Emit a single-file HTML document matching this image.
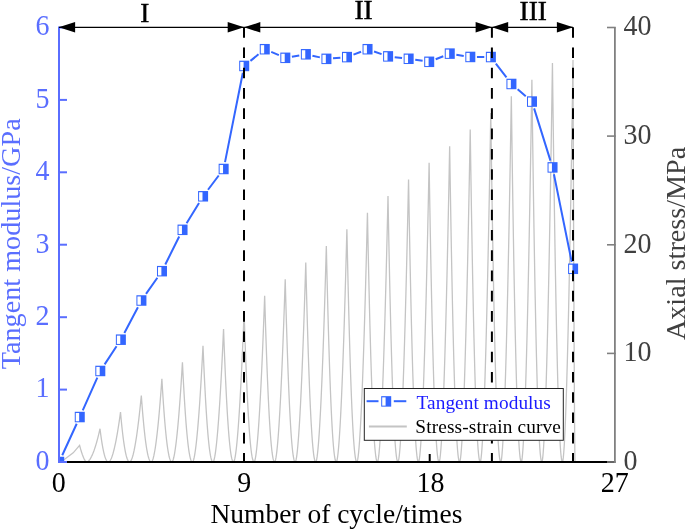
<!DOCTYPE html>
<html><head><meta charset="utf-8"><style>html,body{margin:0;padding:0;background:#fff;width:685px;height:530px;overflow:hidden}svg{display:block;will-change:transform}</style></head>
<body>
<svg width="685" height="530" viewBox="0 0 685 530">
<rect width="685" height="530" fill="#fff"/>
<defs><clipPath id="pc"><rect x="58" y="20" width="557" height="443"/></clipPath></defs>
<path d="M59.00,462.00 L64.00,459.70 L73.20,452.80 L79.60,445.38 L79.89,446.47 L80.18,447.54 L80.47,448.58 L80.77,449.59 L81.06,450.56 L81.35,451.51 L81.64,452.43 L81.93,453.31 L82.22,454.17 L82.52,454.98 L82.81,455.77 L83.10,456.52 L83.39,457.23 L83.68,457.90 L83.97,458.54 L84.27,459.13 L84.56,459.69 L84.85,460.19 L85.14,460.65 L85.43,461.05 L85.72,461.40 L86.02,461.69 L86.31,461.90 L86.60,462.00 L86.60,462.00 L87.16,461.89 L87.72,461.62 L88.27,461.21 L88.83,460.68 L89.39,460.03 L89.95,459.26 L90.51,458.38 L91.07,457.40 L91.62,456.31 L92.18,455.13 L92.74,453.84 L93.30,452.45 L93.86,450.98 L94.42,449.40 L94.97,447.74 L95.53,445.98 L96.09,444.13 L96.65,442.20 L97.21,440.17 L97.77,438.06 L98.33,435.86 L98.88,433.58 L99.44,431.21 L100.00,428.76 L100.35,431.60 L100.71,434.31 L101.06,436.89 L101.42,439.33 L101.77,441.65 L102.12,443.83 L102.48,445.89 L102.83,447.81 L103.19,449.61 L103.54,451.28 L103.90,452.83 L104.25,454.25 L104.60,455.54 L104.96,456.71 L105.31,457.76 L105.67,458.69 L106.02,459.50 L106.38,460.19 L106.73,460.77 L107.08,461.23 L107.44,461.58 L107.79,461.82 L108.15,461.96 L108.50,462.00 L108.50,462.00 L109.00,461.84 L109.50,461.43 L110.00,460.82 L110.50,460.02 L111.00,459.04 L111.50,457.89 L112.00,456.57 L112.50,455.10 L113.00,453.47 L113.50,451.69 L114.00,449.76 L114.50,447.68 L115.00,445.46 L115.50,443.10 L116.00,440.60 L116.50,437.97 L117.00,435.20 L117.50,432.29 L118.00,429.26 L118.50,426.09 L119.00,422.79 L119.50,419.37 L120.00,415.82 L120.50,412.14 L120.88,416.40 L121.27,420.47 L121.65,424.33 L122.03,428.00 L122.42,431.47 L122.80,434.75 L123.18,437.83 L123.57,440.72 L123.95,443.42 L124.33,445.92 L124.72,448.24 L125.10,450.37 L125.48,452.31 L125.87,454.07 L126.25,455.64 L126.63,457.04 L127.02,458.25 L127.40,459.29 L127.78,460.15 L128.17,460.84 L128.55,461.37 L128.93,461.73 L129.32,461.94 L129.70,462.00 L129.70,462.00 L130.18,461.78 L130.67,461.24 L131.15,460.43 L131.64,459.36 L132.12,458.05 L132.61,456.52 L133.09,454.76 L133.57,452.80 L134.06,450.63 L134.54,448.25 L135.03,445.68 L135.51,442.91 L136.00,439.95 L136.48,436.80 L136.96,433.47 L137.45,429.96 L137.93,426.26 L138.42,422.39 L138.90,418.34 L139.39,414.12 L139.87,409.72 L140.36,405.16 L140.84,400.42 L141.32,395.52 L141.74,401.21 L142.16,406.62 L142.57,411.78 L142.99,416.67 L143.41,421.30 L143.82,425.67 L144.24,429.78 L144.66,433.63 L145.07,437.22 L145.49,440.57 L145.91,443.65 L146.32,446.49 L146.74,449.08 L147.16,451.43 L147.57,453.52 L147.99,455.38 L148.41,457.00 L148.82,458.38 L149.24,459.53 L149.66,460.46 L150.07,461.16 L150.49,461.64 L150.91,461.92 L151.32,462.00 L151.32,462.00 L151.76,461.73 L152.20,461.05 L152.64,460.03 L153.08,458.70 L153.52,457.06 L153.96,455.15 L154.40,452.96 L154.84,450.50 L155.28,447.78 L155.72,444.81 L156.16,441.60 L156.60,438.14 L157.04,434.44 L157.48,430.51 L157.92,426.34 L158.36,421.95 L158.80,417.33 L159.24,412.49 L159.68,407.43 L160.12,402.15 L160.56,396.66 L161.00,390.95 L161.44,385.03 L161.88,378.90 L162.30,386.01 L162.71,392.78 L163.13,399.22 L163.55,405.34 L163.96,411.12 L164.38,416.58 L164.80,421.72 L165.21,426.54 L165.63,431.03 L166.05,435.21 L166.46,439.07 L166.88,442.62 L167.30,445.85 L167.71,448.78 L168.13,451.41 L168.55,453.73 L168.96,455.75 L169.38,457.48 L169.80,458.92 L170.21,460.07 L170.63,460.95 L171.05,461.55 L171.46,461.90 L171.88,462.00 L171.88,462.00 L172.32,461.67 L172.76,460.86 L173.20,459.64 L173.64,458.04 L174.08,456.08 L174.52,453.78 L174.96,451.15 L175.40,448.20 L175.84,444.94 L176.28,441.38 L176.72,437.52 L177.16,433.36 L177.60,428.93 L178.04,424.21 L178.48,419.21 L178.92,413.94 L179.36,408.40 L179.80,402.59 L180.24,396.51 L180.68,390.18 L181.12,383.59 L181.56,376.74 L182.00,369.64 L182.44,362.28 L182.85,370.81 L183.27,378.94 L183.69,386.67 L184.10,394.00 L184.52,400.95 L184.94,407.50 L185.35,413.66 L185.77,419.44 L186.19,424.84 L186.60,429.85 L187.02,434.48 L187.44,438.74 L187.85,442.62 L188.27,446.14 L188.69,449.29 L189.10,452.07 L189.52,454.50 L189.94,456.57 L190.35,458.30 L190.77,459.68 L191.19,460.73 L191.60,461.46 L192.02,461.87 L192.44,462.00 L192.44,462.00 L192.88,461.62 L193.32,460.67 L193.76,459.24 L194.20,457.38 L194.64,455.09 L195.07,452.41 L195.51,449.34 L195.95,445.90 L196.39,442.09 L196.83,437.94 L197.27,433.43 L197.71,428.59 L198.15,423.41 L198.59,417.91 L199.03,412.08 L199.47,405.93 L199.91,399.46 L200.35,392.68 L200.79,385.60 L201.23,378.21 L201.67,370.52 L202.11,362.53 L202.55,354.24 L202.99,345.66 L203.41,355.61 L203.83,365.09 L204.24,374.11 L204.66,382.67 L205.08,390.77 L205.49,398.42 L205.91,405.61 L206.33,412.35 L206.74,418.64 L207.16,424.49 L207.58,429.90 L207.99,434.86 L208.41,439.40 L208.83,443.50 L209.24,447.17 L209.66,450.42 L210.08,453.25 L210.49,455.67 L210.91,457.68 L211.33,459.30 L211.74,460.52 L212.16,461.37 L212.58,461.85 L212.99,462.00 L212.99,462.00 L213.43,461.56 L213.87,460.48 L214.31,458.85 L214.75,456.72 L215.19,454.10 L215.63,451.04 L216.07,447.53 L216.51,443.60 L216.95,439.25 L217.39,434.50 L217.83,429.35 L218.27,423.82 L218.71,417.90 L219.15,411.61 L219.59,404.94 L220.03,397.92 L220.47,390.53 L220.91,382.78 L221.35,374.69 L221.79,366.24 L222.23,357.45 L222.67,348.32 L223.11,338.85 L223.55,329.04 L223.96,340.41 L224.38,351.25 L224.80,361.56 L225.21,371.34 L225.63,380.60 L226.05,389.33 L226.46,397.55 L226.88,405.26 L227.30,412.45 L227.71,419.13 L228.13,425.31 L228.55,430.99 L228.96,436.17 L229.38,440.85 L229.80,445.05 L230.21,448.76 L230.63,452.00 L231.05,454.77 L231.46,457.07 L231.88,458.91 L232.30,460.31 L232.71,461.28 L233.13,461.83 L233.55,462.00 L233.55,462.00 L233.99,461.51 L234.43,460.29 L234.87,458.46 L235.31,456.05 L235.75,453.12 L236.19,449.66 L236.63,445.72 L237.07,441.30 L237.51,436.41 L237.95,431.06 L238.39,425.27 L238.83,419.05 L239.27,412.39 L239.71,405.31 L240.15,397.81 L240.59,389.91 L241.03,381.59 L241.47,372.88 L241.90,363.77 L242.34,354.27 L242.78,344.38 L243.22,334.11 L243.66,323.45 L244.10,312.42 L244.52,325.21 L244.94,337.40 L245.35,349.00 L245.77,360.00 L246.19,370.42 L246.60,380.25 L247.02,389.50 L247.44,398.16 L247.85,406.25 L248.27,413.77 L248.69,420.72 L249.10,427.11 L249.52,432.94 L249.94,438.21 L250.35,442.93 L250.77,447.11 L251.19,450.75 L251.60,453.86 L252.02,456.45 L252.44,458.53 L252.85,460.10 L253.27,461.19 L253.69,461.81 L254.10,462.00 L254.10,462.00 L254.54,461.46 L254.98,460.10 L255.42,458.06 L255.86,455.39 L256.30,452.13 L256.74,448.29 L257.18,443.91 L257.62,439.00 L258.06,433.56 L258.50,427.63 L258.94,421.19 L259.38,414.27 L259.82,406.88 L260.26,399.01 L260.70,390.68 L261.14,381.90 L261.58,372.66 L262.02,362.98 L262.46,352.86 L262.90,342.30 L263.34,331.31 L263.78,319.90 L264.22,308.06 L264.66,295.80 L265.08,310.01 L265.49,323.56 L265.91,336.44 L266.33,348.67 L266.74,360.24 L267.16,371.17 L267.58,381.44 L267.99,391.07 L268.41,400.06 L268.83,408.41 L269.24,416.14 L269.66,423.23 L270.08,429.71 L270.49,435.57 L270.91,440.81 L271.33,445.46 L271.74,449.50 L272.16,452.96 L272.58,455.83 L272.99,458.14 L273.41,459.89 L273.83,461.10 L274.24,461.79 L274.66,462.00 L274.66,462.00 L275.10,461.40 L275.54,459.91 L275.98,457.67 L276.42,454.73 L276.86,451.14 L277.30,446.92 L277.74,442.10 L278.18,436.70 L278.62,430.72 L279.06,424.19 L279.50,417.11 L279.94,409.50 L280.38,401.36 L280.82,392.71 L281.26,383.55 L281.70,373.89 L282.14,363.73 L282.58,353.08 L283.02,341.94 L283.46,330.33 L283.90,318.24 L284.34,305.69 L284.78,292.67 L285.22,279.18 L285.63,294.81 L286.05,309.71 L286.47,323.89 L286.88,337.34 L287.30,350.07 L287.72,362.08 L288.13,373.38 L288.55,383.98 L288.97,393.87 L289.38,403.06 L289.80,411.55 L290.22,419.36 L290.63,426.48 L291.05,432.92 L291.47,438.69 L291.88,443.80 L292.30,448.25 L292.72,452.05 L293.13,455.22 L293.55,457.75 L293.97,459.68 L294.38,461.01 L294.80,461.77 L295.22,462.00 L295.22,462.00 L295.66,461.35 L296.10,459.72 L296.54,457.28 L296.98,454.07 L297.42,450.15 L297.86,445.55 L298.29,440.29 L298.73,434.40 L299.17,427.88 L299.61,420.75 L300.05,413.03 L300.49,404.73 L300.93,395.85 L301.37,386.41 L301.81,376.42 L302.25,365.87 L302.69,354.79 L303.13,343.17 L303.57,331.03 L304.01,318.36 L304.45,305.17 L304.89,291.48 L305.33,277.27 L305.77,262.56 L306.19,279.62 L306.61,295.87 L307.02,311.33 L307.44,326.01 L307.86,339.89 L308.27,353.00 L308.69,365.33 L309.11,376.88 L309.52,387.67 L309.94,397.70 L310.36,406.96 L310.77,415.48 L311.19,423.25 L311.61,430.28 L312.02,436.57 L312.44,442.15 L312.86,447.00 L313.27,451.15 L313.69,454.60 L314.11,457.37 L314.52,459.47 L314.94,460.92 L315.36,461.75 L315.77,462.00 L315.77,462.00 L316.21,461.29 L316.65,459.53 L317.09,456.88 L317.53,453.41 L317.97,449.17 L318.41,444.18 L318.85,438.48 L319.29,432.09 L319.73,425.03 L320.17,417.31 L320.61,408.95 L321.05,399.95 L321.49,390.34 L321.93,380.11 L322.37,369.29 L322.81,357.86 L323.25,345.86 L323.69,333.27 L324.13,320.11 L324.57,306.39 L325.01,292.11 L325.45,277.27 L325.89,261.88 L326.33,245.94 L326.74,264.42 L327.16,282.03 L327.58,298.78 L327.99,314.67 L328.41,329.72 L328.83,343.92 L329.24,357.27 L329.66,369.79 L330.08,381.48 L330.49,392.34 L330.91,402.38 L331.33,411.60 L331.74,420.02 L332.16,427.63 L332.58,434.46 L332.99,440.49 L333.41,445.75 L333.83,450.24 L334.24,453.98 L334.66,456.98 L335.08,459.26 L335.49,460.83 L335.91,461.73 L336.33,462.00 L336.33,462.00 L336.77,461.24 L337.21,459.34 L337.65,456.49 L338.09,452.75 L338.53,448.18 L338.97,442.81 L339.41,436.68 L339.85,429.79 L340.29,422.19 L340.73,413.88 L341.17,404.87 L341.61,395.18 L342.05,384.83 L342.49,373.81 L342.93,362.15 L343.37,349.85 L343.81,336.92 L344.25,323.37 L344.68,309.20 L345.12,294.42 L345.56,279.04 L346.00,263.06 L346.44,246.48 L346.88,229.33 L347.30,249.22 L347.72,268.18 L348.13,286.22 L348.55,303.34 L348.97,319.54 L349.38,334.83 L349.80,349.22 L350.22,362.70 L350.63,375.28 L351.05,386.98 L351.47,397.79 L351.88,407.73 L352.30,416.79 L352.72,424.99 L353.13,432.34 L353.55,438.84 L353.97,444.50 L354.38,449.34 L354.80,453.37 L355.22,456.60 L355.63,459.05 L356.05,460.74 L356.47,461.71 L356.88,462.00 L356.88,462.00 L357.32,461.18 L357.76,459.15 L358.20,456.10 L358.64,452.09 L359.08,447.19 L359.52,441.44 L359.96,434.87 L360.40,427.49 L360.84,419.35 L361.28,410.44 L361.72,400.79 L362.16,390.41 L362.60,379.31 L363.04,367.52 L363.48,355.02 L363.92,341.84 L364.36,327.99 L364.80,313.47 L365.24,298.28 L365.68,282.45 L366.12,265.97 L366.56,248.85 L367.00,231.09 L367.44,212.71 L367.86,234.02 L368.27,254.34 L368.69,273.67 L369.11,292.01 L369.52,309.37 L369.94,325.75 L370.36,341.16 L370.77,355.61 L371.19,369.09 L371.61,381.62 L372.02,393.21 L372.44,403.85 L372.86,413.56 L373.27,422.35 L373.69,430.22 L374.11,437.18 L374.52,443.25 L374.94,448.44 L375.36,452.75 L375.77,456.21 L376.19,458.84 L376.61,460.65 L377.02,461.69 L377.44,462.00 L377.44,462.00 L377.88,461.13 L378.32,458.96 L378.76,455.70 L379.20,451.43 L379.64,446.21 L380.08,440.07 L380.52,433.06 L380.96,425.19 L381.40,416.50 L381.84,407.00 L382.28,396.71 L382.72,385.64 L383.16,373.80 L383.60,361.22 L384.04,347.89 L384.48,333.83 L384.92,319.05 L385.36,303.56 L385.80,287.37 L386.24,270.48 L386.68,252.90 L387.12,234.64 L387.56,215.70 L388.00,196.09 L388.41,218.82 L388.83,240.49 L389.25,261.11 L389.66,280.67 L390.08,299.19 L390.50,316.67 L390.91,333.10 L391.33,348.51 L391.75,362.90 L392.16,376.26 L392.58,388.62 L393.00,399.97 L393.41,410.33 L393.83,419.70 L394.25,428.10 L394.66,435.53 L395.08,442.00 L395.50,447.53 L395.91,452.13 L396.33,455.83 L396.75,458.63 L397.16,460.56 L397.58,461.66 L398.00,462.00 L398.00,462.00 L398.44,461.07 L398.88,458.77 L399.32,455.31 L399.76,450.77 L400.20,445.22 L400.64,438.70 L401.07,431.25 L401.51,422.89 L401.95,413.66 L402.39,403.56 L402.83,392.63 L403.27,380.86 L403.71,368.29 L404.15,354.92 L404.59,340.76 L405.03,325.82 L405.47,310.12 L405.91,293.66 L406.35,276.46 L406.79,258.51 L407.23,239.83 L407.67,220.43 L408.11,200.30 L408.55,179.47 L408.97,203.62 L409.39,226.65 L409.80,248.55 L410.22,269.34 L410.64,289.01 L411.05,307.58 L411.47,325.05 L411.89,341.42 L412.30,356.70 L412.72,370.90 L413.14,384.03 L413.55,396.10 L413.97,407.10 L414.39,417.06 L414.80,425.98 L415.22,433.87 L415.64,440.75 L416.05,446.63 L416.47,451.52 L416.89,455.44 L417.30,458.41 L417.72,460.47 L418.14,461.64 L418.55,462.00 L418.55,462.00 L418.99,461.02 L419.43,458.59 L419.87,454.92 L420.31,450.11 L420.75,444.23 L421.19,437.33 L421.63,429.44 L422.07,420.59 L422.51,410.81 L422.95,400.13 L423.39,388.55 L423.83,376.09 L424.27,362.78 L424.71,348.62 L425.15,333.63 L425.59,317.81 L426.03,301.19 L426.47,283.76 L426.91,265.54 L427.35,246.54 L427.79,226.76 L428.23,206.22 L428.67,184.91 L429.11,162.85 L429.52,188.42 L429.94,212.81 L430.36,236.00 L430.77,258.01 L431.19,278.84 L431.61,298.50 L432.02,316.99 L432.44,334.33 L432.86,350.51 L433.27,365.55 L433.69,379.45 L434.11,392.22 L434.52,403.87 L434.94,414.42 L435.36,423.86 L435.77,432.22 L436.19,439.50 L436.61,445.72 L437.02,450.90 L437.44,455.05 L437.86,458.20 L438.27,460.38 L438.69,461.62 L439.11,462.00 L439.11,462.00 L439.55,460.96 L439.99,458.40 L440.43,454.52 L440.87,449.45 L441.31,443.24 L441.75,435.96 L442.19,427.63 L442.63,418.29 L443.07,407.97 L443.51,396.69 L443.95,384.46 L444.39,371.32 L444.83,357.26 L445.27,342.32 L445.71,326.49 L446.15,309.80 L446.59,292.25 L447.03,273.86 L447.46,254.63 L447.90,234.57 L448.34,213.69 L448.78,192.01 L449.22,169.51 L449.66,146.23 L450.08,173.22 L450.50,198.96 L450.91,223.44 L451.33,246.68 L451.75,268.66 L452.16,289.41 L452.58,308.94 L453.00,327.23 L453.41,344.31 L453.83,360.19 L454.25,374.86 L454.66,388.34 L455.08,400.64 L455.50,411.77 L455.91,421.74 L456.33,430.56 L456.75,438.25 L457.16,444.82 L457.58,450.28 L458.00,454.67 L458.41,457.99 L458.83,460.29 L459.25,461.60 L459.66,462.00 L459.66,462.00 L460.10,460.91 L460.54,458.21 L460.98,454.13 L461.42,448.79 L461.86,442.26 L462.30,434.59 L462.74,425.82 L463.18,415.99 L463.62,405.13 L464.06,393.25 L464.50,380.38 L464.94,366.55 L465.38,351.75 L465.82,336.02 L466.26,319.36 L466.70,301.79 L467.14,283.32 L467.58,263.96 L468.02,243.71 L468.46,222.60 L468.90,200.62 L469.34,177.79 L469.78,154.12 L470.22,129.61 L470.64,158.03 L471.05,185.12 L471.47,210.89 L471.89,235.34 L472.30,258.49 L472.72,280.33 L473.14,300.88 L473.55,320.14 L473.97,338.12 L474.39,354.83 L474.80,370.27 L475.22,384.47 L475.64,397.41 L476.05,409.13 L476.47,419.62 L476.89,428.91 L477.30,437.00 L477.72,443.91 L478.14,449.67 L478.55,454.28 L478.97,457.78 L479.39,460.20 L479.80,461.58 L480.22,462.00 L480.22,462.00 L480.66,460.86 L481.10,458.02 L481.54,453.73 L481.98,448.13 L482.42,441.27 L482.86,433.22 L483.30,424.01 L483.74,413.69 L484.18,402.28 L484.62,389.81 L485.06,376.30 L485.50,361.77 L485.94,346.24 L486.38,329.72 L486.82,312.23 L487.26,293.78 L487.70,274.38 L488.14,254.05 L488.58,232.80 L489.02,210.63 L489.46,187.56 L489.90,163.58 L490.34,138.73 L490.78,112.99 L491.19,142.83 L491.61,171.27 L492.03,198.33 L492.44,224.01 L492.86,248.31 L493.28,271.25 L493.69,292.82 L494.11,313.05 L494.53,331.93 L494.94,349.47 L495.36,365.69 L495.78,380.59 L496.19,394.19 L496.61,406.49 L497.03,417.51 L497.44,427.26 L497.86,435.75 L498.28,443.01 L498.69,449.05 L499.11,453.90 L499.53,457.57 L499.94,460.11 L500.36,461.56 L500.78,462.00 L500.78,462.00 L501.22,460.80 L501.66,457.83 L502.10,453.34 L502.54,447.47 L502.98,440.28 L503.42,431.85 L503.85,422.20 L504.29,411.39 L504.73,399.44 L505.17,386.38 L505.61,372.22 L506.05,357.00 L506.49,340.73 L506.93,323.42 L507.37,305.10 L507.81,285.77 L508.25,265.45 L508.69,244.15 L509.13,221.88 L509.57,198.66 L510.01,174.49 L510.45,149.37 L510.89,123.33 L511.33,96.37 L511.75,127.63 L512.17,157.43 L512.58,185.78 L513.00,212.68 L513.42,238.14 L513.83,262.16 L514.25,284.77 L514.67,305.95 L515.08,325.73 L515.50,344.11 L515.92,361.10 L516.33,376.71 L516.75,390.96 L517.17,403.84 L517.58,415.39 L518.00,425.60 L518.42,434.50 L518.83,442.11 L519.25,448.43 L519.67,453.51 L520.08,457.36 L520.50,460.02 L520.92,461.54 L521.33,462.00 L521.33,462.00 L521.77,460.75 L522.21,457.64 L522.65,452.95 L523.09,446.81 L523.53,439.30 L523.97,430.48 L524.41,420.40 L524.85,409.09 L525.29,396.60 L525.73,382.94 L526.17,368.14 L526.61,352.23 L527.05,335.22 L527.49,317.12 L527.93,297.97 L528.37,277.76 L528.81,256.52 L529.25,234.25 L529.69,210.97 L530.13,186.69 L530.57,161.42 L531.01,135.16 L531.45,107.94 L531.89,79.75 L532.30,112.43 L532.72,143.59 L533.14,173.22 L533.55,201.34 L533.97,227.96 L534.39,253.08 L534.80,276.71 L535.22,298.86 L535.64,319.54 L536.05,338.75 L536.47,356.52 L536.89,372.84 L537.30,387.73 L537.72,401.20 L538.14,413.27 L538.55,423.95 L538.97,433.25 L539.39,441.20 L539.80,447.82 L540.22,453.12 L540.64,457.15 L541.05,459.93 L541.47,461.52 L541.89,462.00 L541.89,462.00 L542.33,460.69 L542.77,457.45 L543.21,452.55 L543.65,446.15 L544.09,438.31 L544.53,429.11 L544.97,418.59 L545.41,406.79 L545.85,393.75 L546.29,379.50 L546.73,364.06 L547.17,347.45 L547.61,329.70 L548.05,310.82 L548.49,290.83 L548.93,269.75 L549.37,247.58 L549.81,224.35 L550.24,200.06 L550.68,174.72 L551.12,148.35 L551.56,120.95 L552.00,92.54 L552.44,63.13 L552.86,97.23 L553.28,129.74 L553.69,160.67 L554.11,190.01 L554.53,217.79 L554.94,244.00 L555.36,268.66 L555.78,291.77 L556.19,313.34 L556.61,333.40 L557.03,351.93 L557.44,368.96 L557.86,384.50 L558.28,398.56 L558.69,411.15 L559.11,422.29 L559.53,432.00 L559.94,440.30 L560.36,447.20 L560.78,452.74 L561.19,456.94 L561.61,459.84 L562.03,461.50 L562.44,462.00 L562.44,462.00 L562.88,460.68 L563.32,457.41 L563.76,452.48 L564.20,446.02 L564.64,438.13 L565.08,428.85 L565.52,418.26 L565.96,406.37 L566.40,393.23 L566.84,378.87 L567.28,363.31 L567.72,346.58 L568.16,328.69 L568.60,309.67 L569.04,289.53 L569.48,268.28 L569.92,245.95 L570.36,222.54 L570.80,198.06 L571.24,172.53 L571.68,145.96 L572.12,118.35 L572.56,89.73 L573.00,60.09 L573.08,84.94 L573.17,109.26 L573.25,133.04 L573.33,156.25 L573.42,178.90 L573.50,200.95 L573.58,222.40 L573.67,243.23 L573.75,263.41 L573.83,282.94 L573.92,301.78 L574.00,319.90 L574.08,337.29 L574.17,353.90 L574.25,369.70 L574.33,384.65 L574.42,398.69 L574.50,411.76 L574.58,423.78 L574.67,434.65 L574.75,444.24 L574.83,452.33 L574.92,458.58 L575.00,462.00" stroke="#c4c4c4" stroke-width="1.3" fill="none" clip-path="url(#pc)"/>
<g clip-path="url(#pc)"><path d="M62.26,455.29 L76.69,423.73 M82.75,410.32 L97.32,377.68 M104.64,364.38 L116.54,346.27 M124.37,333.02 L137.93,307.17 M146.02,293.94 L157.38,277.73 M165.30,264.49 L179.21,236.50 M186.59,223.21 L199.04,202.91 M208.01,189.76 L218.73,175.52 M225.01,162.17 L242.84,72.75 M250.44,60.86 L258.52,54.29 M271.24,51.92 L278.84,55.11 M291.89,56.69 L299.30,55.41 M312.43,55.73 L319.87,57.38 M333.02,58.28 L340.39,57.66 M353.48,54.61 L361.05,51.70 M374.05,51.48 L381.59,54.10 M394.69,57.14 L402.06,58.00 M415.23,59.74 L422.63,60.83 M435.69,59.22 L443.28,56.21 M456.34,54.69 L463.74,55.89 M476.92,56.98 L484.28,57.00 M495.85,63.55 L506.46,77.45 M517.65,89.29 L525.77,96.24 M534.10,108.34 L550.43,160.62 M553.93,174.21 L571.72,261.97" stroke="#3366ff" stroke-width="2" fill="none"/><rect x="54.20" y="456.75" width="10" height="10.5" fill="#3366ff"/><rect x="55.20" y="457.95" width="3.4" height="8.3" fill="#fff"/><rect x="74.76" y="411.78" width="10" height="10.5" fill="#3366ff"/><rect x="75.76" y="412.98" width="3.4" height="8.3" fill="#fff"/><rect x="95.31" y="365.72" width="10" height="10.5" fill="#3366ff"/><rect x="96.31" y="366.92" width="3.4" height="8.3" fill="#fff"/><rect x="115.87" y="334.43" width="10" height="10.5" fill="#3366ff"/><rect x="116.87" y="335.63" width="3.4" height="8.3" fill="#fff"/><rect x="136.42" y="295.25" width="10" height="10.5" fill="#3366ff"/><rect x="137.42" y="296.45" width="3.4" height="8.3" fill="#fff"/><rect x="156.98" y="265.92" width="10" height="10.5" fill="#3366ff"/><rect x="157.98" y="267.12" width="3.4" height="8.3" fill="#fff"/><rect x="177.54" y="224.57" width="10" height="10.5" fill="#3366ff"/><rect x="178.54" y="225.77" width="3.4" height="8.3" fill="#fff"/><rect x="198.09" y="191.04" width="10" height="10.5" fill="#3366ff"/><rect x="199.09" y="192.24" width="3.4" height="8.3" fill="#fff"/><rect x="218.65" y="163.74" width="10" height="10.5" fill="#3366ff"/><rect x="219.65" y="164.94" width="3.4" height="8.3" fill="#fff"/><rect x="239.20" y="60.69" width="10" height="10.5" fill="#3366ff"/><rect x="240.20" y="61.89" width="3.4" height="8.3" fill="#fff"/><rect x="259.76" y="43.96" width="10" height="10.5" fill="#3366ff"/><rect x="260.76" y="45.16" width="3.4" height="8.3" fill="#fff"/><rect x="280.32" y="52.57" width="10" height="10.5" fill="#3366ff"/><rect x="281.32" y="53.77" width="3.4" height="8.3" fill="#fff"/><rect x="300.87" y="49.03" width="10" height="10.5" fill="#3366ff"/><rect x="301.87" y="50.23" width="3.4" height="8.3" fill="#fff"/><rect x="321.43" y="53.59" width="10" height="10.5" fill="#3366ff"/><rect x="322.43" y="54.79" width="3.4" height="8.3" fill="#fff"/><rect x="341.98" y="51.85" width="10" height="10.5" fill="#3366ff"/><rect x="342.98" y="53.05" width="3.4" height="8.3" fill="#fff"/><rect x="362.54" y="43.96" width="10" height="10.5" fill="#3366ff"/><rect x="363.54" y="45.16" width="3.4" height="8.3" fill="#fff"/><rect x="383.10" y="51.13" width="10" height="10.5" fill="#3366ff"/><rect x="384.10" y="52.33" width="3.4" height="8.3" fill="#fff"/><rect x="403.65" y="53.52" width="10" height="10.5" fill="#3366ff"/><rect x="404.65" y="54.72" width="3.4" height="8.3" fill="#fff"/><rect x="424.21" y="56.56" width="10" height="10.5" fill="#3366ff"/><rect x="425.21" y="57.76" width="3.4" height="8.3" fill="#fff"/><rect x="444.76" y="48.37" width="10" height="10.5" fill="#3366ff"/><rect x="445.76" y="49.57" width="3.4" height="8.3" fill="#fff"/><rect x="465.32" y="51.70" width="10" height="10.5" fill="#3366ff"/><rect x="466.32" y="52.90" width="3.4" height="8.3" fill="#fff"/><rect x="485.88" y="51.78" width="10" height="10.5" fill="#3366ff"/><rect x="486.88" y="52.98" width="3.4" height="8.3" fill="#fff"/><rect x="506.43" y="78.72" width="10" height="10.5" fill="#3366ff"/><rect x="507.43" y="79.92" width="3.4" height="8.3" fill="#fff"/><rect x="526.99" y="96.32" width="10" height="10.5" fill="#3366ff"/><rect x="527.99" y="97.52" width="3.4" height="8.3" fill="#fff"/><rect x="547.54" y="162.15" width="10" height="10.5" fill="#3366ff"/><rect x="548.54" y="163.35" width="3.4" height="8.3" fill="#fff"/><rect x="568.10" y="263.53" width="10" height="10.5" fill="#3366ff"/><rect x="569.10" y="264.73" width="3.4" height="8.3" fill="#fff"/></g>
<line x1="244.0" y1="27.2" x2="244.0" y2="462" stroke="#000" stroke-width="2" stroke-dasharray="10.6 9.68"/>
<line x1="491.9" y1="27.2" x2="491.9" y2="462" stroke="#000" stroke-width="2" stroke-dasharray="10.6 9.68"/>
<line x1="573.0" y1="27.2" x2="573.0" y2="462" stroke="#000" stroke-width="2" stroke-dasharray="10.6 9.68"/>
<rect x="364.3" y="388.5" width="199" height="51.8" fill="#fff" stroke="#222" stroke-width="1"/>
<line x1="366.6" y1="401.2" x2="378.5" y2="401.2" stroke="#3366ff" stroke-width="2"/>
<line x1="393.8" y1="401.2" x2="406.3" y2="401.2" stroke="#3366ff" stroke-width="2"/>
<rect x="381.20" y="396.15" width="10" height="10.5" fill="#3366ff"/><rect x="382.20" y="397.35" width="3.4" height="8.3" fill="#fff"/>
<line x1="368.9" y1="426.5" x2="406.8" y2="426.5" stroke="#c4c4c4" stroke-width="1.8"/>
<text x="416.5" y="408.9" font-family="Liberation Serif" font-size="19.3" fill="#1a1aff" textLength="134.3" lengthAdjust="spacing">Tangent modulus</text>
<text x="415.3" y="432.9" font-family="Liberation Serif" font-size="19.3" fill="#000" textLength="145.6" lengthAdjust="spacing">Stress-strain curve</text>
<line x1="59" y1="462" x2="614" y2="462" stroke="#000" stroke-width="2"/>
<line x1="244.0" y1="454" x2="244.0" y2="462" stroke="#000" stroke-width="2"/>
<line x1="429.7" y1="454" x2="429.7" y2="462" stroke="#000" stroke-width="2"/>
<line x1="614.9" y1="27.2" x2="614.9" y2="463" stroke="#808080" stroke-width="1.8"/>
<line x1="607" y1="462.0" x2="615.7" y2="462.0" stroke="#808080" stroke-width="1.6"/>
<line x1="607" y1="353.4" x2="615.7" y2="353.4" stroke="#808080" stroke-width="1.6"/>
<line x1="607" y1="244.8" x2="615.7" y2="244.8" stroke="#808080" stroke-width="1.6"/>
<line x1="607" y1="136.1" x2="615.7" y2="136.1" stroke="#808080" stroke-width="1.6"/>
<line x1="607" y1="27.5" x2="615.7" y2="27.5" stroke="#808080" stroke-width="1.6"/>
<line x1="59" y1="27" x2="59" y2="463" stroke="#5a6eff" stroke-width="2"/>
<line x1="58" y1="462.0" x2="67" y2="462.0" stroke="#5a6eff" stroke-width="2"/>
<line x1="58" y1="389.6" x2="67" y2="389.6" stroke="#5a6eff" stroke-width="2"/>
<line x1="58" y1="317.2" x2="67" y2="317.2" stroke="#5a6eff" stroke-width="2"/>
<line x1="58" y1="244.7" x2="67" y2="244.7" stroke="#5a6eff" stroke-width="2"/>
<line x1="58" y1="172.3" x2="67" y2="172.3" stroke="#5a6eff" stroke-width="2"/>
<line x1="58" y1="99.9" x2="67" y2="99.9" stroke="#5a6eff" stroke-width="2"/>
<line x1="58" y1="27.5" x2="67" y2="27.5" stroke="#5a6eff" stroke-width="2"/>
<line x1="59" y1="27.35" x2="573" y2="27.35" stroke="#000" stroke-width="1.3"/>
<path d="M58.80,27.35 L75.10,22.1 L75.10,32.6 Z" fill="#000"/>
<path d="M244.00,27.35 L227.70,22.1 L227.70,32.6 Z" fill="#000"/>
<path d="M244.00,27.35 L260.30,22.1 L260.30,32.6 Z" fill="#000"/>
<path d="M491.90,27.35 L475.60,22.1 L475.60,32.6 Z" fill="#000"/>
<path d="M491.90,27.35 L508.20,22.1 L508.20,32.6 Z" fill="#000"/>
<path d="M573.20,27.35 L556.90,22.1 L556.90,32.6 Z" fill="#000"/>
<text x="144.9" y="21.5" font-family="Liberation Serif" font-size="27.3" text-anchor="middle" stroke="#000" stroke-width="0.45">I</text>
<text x="363.5" y="19" font-family="Liberation Serif" font-size="27.3" text-anchor="middle" stroke="#000" stroke-width="0.45">II</text>
<text x="533.2" y="19.6" font-family="Liberation Serif" font-size="27.3" text-anchor="middle" stroke="#000" stroke-width="0.45">III</text>
<text transform="translate(49.6,469.80) scale(1,1.05)" font-family="Liberation Serif" font-size="28" fill="#5a6eff" text-anchor="end">0</text>
<text transform="translate(49.6,397.38) scale(1,1.05)" font-family="Liberation Serif" font-size="28" fill="#5a6eff" text-anchor="end">1</text>
<text transform="translate(49.6,324.96) scale(1,1.05)" font-family="Liberation Serif" font-size="28" fill="#5a6eff" text-anchor="end">2</text>
<text transform="translate(49.6,252.54) scale(1,1.05)" font-family="Liberation Serif" font-size="28" fill="#5a6eff" text-anchor="end">3</text>
<text transform="translate(49.6,180.12) scale(1,1.05)" font-family="Liberation Serif" font-size="28" fill="#5a6eff" text-anchor="end">4</text>
<text transform="translate(49.6,107.70) scale(1,1.05)" font-family="Liberation Serif" font-size="28" fill="#5a6eff" text-anchor="end">5</text>
<text transform="translate(49.6,35.28) scale(1,1.05)" font-family="Liberation Serif" font-size="28" fill="#5a6eff" text-anchor="end">6</text>
<text transform="translate(623.6,469.80) scale(1,1.05)" font-family="Liberation Serif" font-size="28" fill="#404040">0</text>
<text transform="translate(623.6,361.18) scale(1,1.05)" font-family="Liberation Serif" font-size="28" fill="#404040">10</text>
<text transform="translate(623.6,252.55) scale(1,1.05)" font-family="Liberation Serif" font-size="28" fill="#404040">20</text>
<text transform="translate(623.6,143.93) scale(1,1.05)" font-family="Liberation Serif" font-size="28" fill="#404040">30</text>
<text transform="translate(623.6,35.30) scale(1,1.05)" font-family="Liberation Serif" font-size="28" fill="#404040">40</text>
<text transform="translate(58.70,491.5) scale(1,1.05)" font-family="Liberation Serif" font-size="28" text-anchor="middle">0</text>
<text transform="translate(244.20,491.5) scale(1,1.05)" font-family="Liberation Serif" font-size="28" text-anchor="middle">9</text>
<text transform="translate(430.40,491.5) scale(1,1.05)" font-family="Liberation Serif" font-size="28" text-anchor="middle">18</text>
<text transform="translate(614.80,491.5) scale(1,1.05)" font-family="Liberation Serif" font-size="28" text-anchor="middle">27</text>
<text x="336.4" y="523" font-family="Liberation Serif" font-size="27.5" text-anchor="middle">Number of cycle/times</text>
<text transform="translate(19.5,243.8) rotate(-90)" font-family="Liberation Serif" font-size="28.2" fill="#5a6eff" text-anchor="middle">Tangent modulus/GPa</text>
<text transform="translate(684.8,243.4) rotate(-90)" font-family="Liberation Serif" font-size="28.2" fill="#404040" text-anchor="middle">Axial stress/MPa</text>
</svg>
</body></html>
